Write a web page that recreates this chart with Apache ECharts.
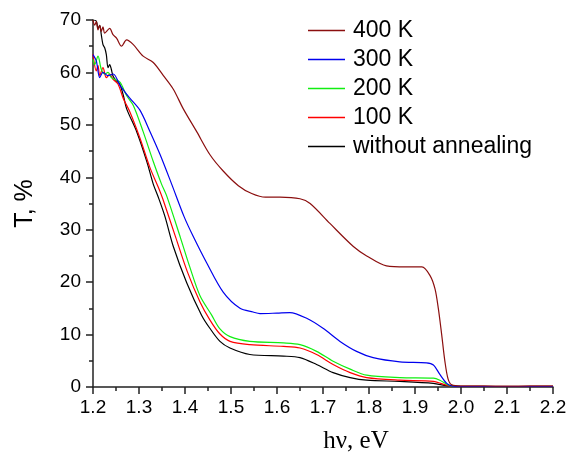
<!DOCTYPE html>
<html>
<head>
<meta charset="utf-8">
<script src="https://cdn.jsdelivr.net/npm/echarts@6/dist/echarts.min.js"></script>
<style>html,body{margin:0;padding:0;background:#fff}#c{width:577px;height:459px}</style>
</head>
<body>
<div id="c"></div>
<script>
var xTicks = [1.2, 1.3, 1.4, 1.5, 1.6, 1.7, 1.8, 1.9, 2.0, 2.1, 2.2];
var yTicks = [0, 10, 20, 30, 40, 50, 60, 70];
var seriesNames = ['400 K', '300 K', '200 K', '100 K', 'without annealing'];

var k400X = [1.200, 1.2036, 1.2072, 1.2109, 1.2146, 1.218, 1.2217, 1.2254, 1.2363, 1.2435, 1.2515, 1.262, 1.273, 1.2877, 1.309, 1.331, 1.353, 1.3746, 1.396, 1.4254, 1.4543, 1.483, 1.516, 1.545, 1.575, 1.6065, 1.65, 1.672, 1.715, 1.766, 1.795, 1.838, 1.88, 1.915, 1.933, 1.9435, 1.9507, 1.958, 1.965, 1.972, 1.98, 2.0, 2.05, 2.1, 2.15, 2.2];
var k400Y = [70, 69, 69.7, 68.1, 69, 67.8, 68.7, 67.5, 68.4, 67.2, 66.5, 65, 66.2, 65.3, 63.1, 61.9, 59.4, 56.8, 53.1, 48.7, 44.3, 41.2, 38.4, 36.9, 36.2, 36.2, 35.9, 35, 31.2, 26.8, 25, 23.1, 22.9, 22.9, 21.2, 18.7, 15, 10, 4.9, 1.5, 0.4, 0.2, 0.2, 0.15, 0.2, 0.2];

var k300X = [1.2, 1.2072, 1.2146, 1.2217, 1.2326, 1.244, 1.259, 1.28, 1.302, 1.324, 1.346, 1.371, 1.398, 1.418, 1.447, 1.483, 1.5196, 1.548, 1.563, 1.6, 1.628, 1.6645, 1.7, 1.737, 1.773, 1.809, 1.867, 1.925, 1.94, 1.954, 1.969, 1.98, 2.0, 2.1, 2.2];
var k300Y = [63.4, 62.2, 59, 60, 59.4, 59.7, 57.5, 55.1, 52.8, 48.7, 44.3, 38.7, 32.5, 28.7, 23.7, 18.1, 15, 14.3, 14.0, 14.1, 14.2, 13.1, 11.2, 8.7, 6.8, 5.6, 4.8, 4.6, 4.2, 2.4, 0.7, 0.2, 0.1, 0.1, 0.1];

var k200X = [1.2, 1.2036, 1.2109, 1.218, 1.2254, 1.2326, 1.2398, 1.2472, 1.259, 1.273, 1.2877, 1.309, 1.331, 1.349, 1.36, 1.39, 1.41, 1.4326, 1.458, 1.475, 1.498, 1.541, 1.614, 1.65, 1.686, 1.722, 1.759, 1.795, 1.867, 1.94, 1.954, 1.976, 2.0, 2.1, 2.2];
var k200Y = [62.5, 61.5, 63.1, 60.6, 59.7, 60, 59, 58.7, 58.1, 55.6, 53.7, 48.7, 43, 38.7, 36.5, 28.5, 23, 17.4, 13.7, 11.2, 9.6, 8.7, 8.4, 8.07, 6.8, 4.9, 3.4, 2.25, 1.8, 1.7, 1.3, 0.25, 0.1, 0.1, 0.1];

var k100X = [1.2, 1.2072, 1.2109, 1.2146, 1.2217, 1.229, 1.2363, 1.2435, 1.2543, 1.266, 1.28, 1.302, 1.324, 1.342, 1.352, 1.38, 1.405, 1.4326, 1.454, 1.475, 1.498, 1.541, 1.614, 1.65, 1.686, 1.722, 1.759, 1.795, 1.867, 1.94, 1.972, 2.0, 2.1, 2.2];
var k100Y = [63.5, 60.3, 61.3, 59.4, 60.9, 59.0, 59.7, 58.7, 57.8, 55, 52.5, 47.5, 41.8, 38.1, 35.8, 28.5, 22, 16.2, 12.8, 10.2, 8.7, 8.07, 7.75, 7.44, 6.2, 4.3, 2.75, 1.8, 1.3, 1.07, 0.25, 0.1, 0.1, 0.1];

var k0X = [1.2, 1.2072, 1.2109, 1.2146, 1.218, 1.2217, 1.2254, 1.229, 1.2326, 1.2363, 1.2398, 1.2435, 1.2507, 1.258, 1.266, 1.273, 1.295, 1.317, 1.331, 1.342, 1.3565, 1.3746, 1.4037, 1.436, 1.454, 1.476, 1.4978, 1.541, 1.614, 1.65, 1.686, 1.722, 1.759, 1.795, 1.867, 1.94, 1.969, 2.0, 2.1, 2.2];
var k0Y = [70, 69.8, 68.4, 69, 67.2, 65.3, 64.7, 63.4, 60.9, 61.5, 60.6, 59.3, 58.4, 57.8, 55.6, 53.1, 48.7, 43, 38.7, 36.2, 32.5, 26.8, 19.9, 13.7, 11.2, 8.7, 7.44, 6.2, 5.9, 5.6, 4.3, 2.75, 1.8, 1.3, 1.07, 0.7, 0.25, 0.1, 0.1, 0.1];

function pairs(xs, ys) { return xs.map(function (x, i) { return [x, ys[i]]; }); }

var colors = { '400 K': '#8b0f0f', '300 K': '#0000ee', '200 K': '#11ee11', '100 K': '#ff0000', 'without annealing': '#000000' };
var dataMap = {
  '400 K': pairs(k400X, k400Y),
  '300 K': pairs(k300X, k300Y),
  '200 K': pairs(k200X, k200Y),
  '100 K': pairs(k100X, k100Y),
  'without annealing': pairs(k0X, k0Y)
};
var drawOrder = ['without annealing', '100 K', '200 K', '300 K', '400 K'];
var sans = 'Liberation Sans, Arial, sans-serif';

var chart = echarts.init(document.getElementById('c'), null, { renderer: 'canvas' });
chart.setOption({
  animation: false,
  backgroundColor: '#fff',
  grid: { left: 93, right: 24, top: 20, bottom: 66, containLabel: false },
  legend: {
    data: seriesNames,
    orient: 'vertical',
    left: 308,
    top: 19,
    padding: 0,
    itemWidth: 37,
    itemHeight: 14,
    itemGap: 6,
    icon: 'path://M0,6 L37,6 L37,7.3 L0,7.3 Z',
    textStyle: { fontFamily: sans, fontSize: 23, color: '#000', padding: [0, 0, 0, 3] }
  },
  xAxis: {
    type: 'value',
    min: xTicks[0],
    max: xTicks[xTicks.length - 1],
    interval: 0.1,
    name: 'h\u03bd, eV',
    nameLocation: 'middle',
    nameGap: 42,
    nameTextStyle: { fontFamily: 'Liberation Serif, Times New Roman, serif', fontSize: 25, color: '#000', padding: [0, 0, 0, 66] },
    axisLine: { onZero: false, lineStyle: { color: '#222', width: 1.5 } },
    axisTick: { show: true, inside: false, length: 7, lineStyle: { color: '#222', width: 1.5 } },
    minorTick: { show: true, splitNumber: 2, length: 4, lineStyle: { color: '#222', width: 1.5 } },
    splitLine: { show: false },
    axisLabel: {
      margin: 11, fontFamily: sans, fontSize: 19, color: '#000',
      formatter: function (v) { return (Math.round(v * 10) / 10).toFixed(1); }
    }
  },
  yAxis: {
    type: 'value',
    min: yTicks[0],
    max: yTicks[yTicks.length - 1],
    interval: 10,
    name: 'T, %',
    nameLocation: 'middle',
    nameGap: 55,
    nameRotate: 90,
    nameTextStyle: { fontFamily: sans, fontSize: 25, color: '#000' },
    axisLine: { show: true, lineStyle: { color: '#222', width: 1.5 } },
    axisTick: { show: true, inside: false, length: 7, lineStyle: { color: '#222', width: 1.5 } },
    minorTick: { show: true, splitNumber: 2, length: 4, lineStyle: { color: '#222', width: 1.5 } },
    splitLine: { show: false },
    axisLabel: { margin: 12, fontFamily: sans, fontSize: 19, color: '#000' }
  },
  series: drawOrder.map(function (n) {
    return {
      name: n,
      type: 'line',
      data: dataMap[n],
      symbol: 'none',
      smooth: 0.3,
      lineStyle: { color: colors[n], width: 1.2 },
      itemStyle: { color: colors[n] },
      z: 2
    };
  })
});
</script>
</body>
</html>
